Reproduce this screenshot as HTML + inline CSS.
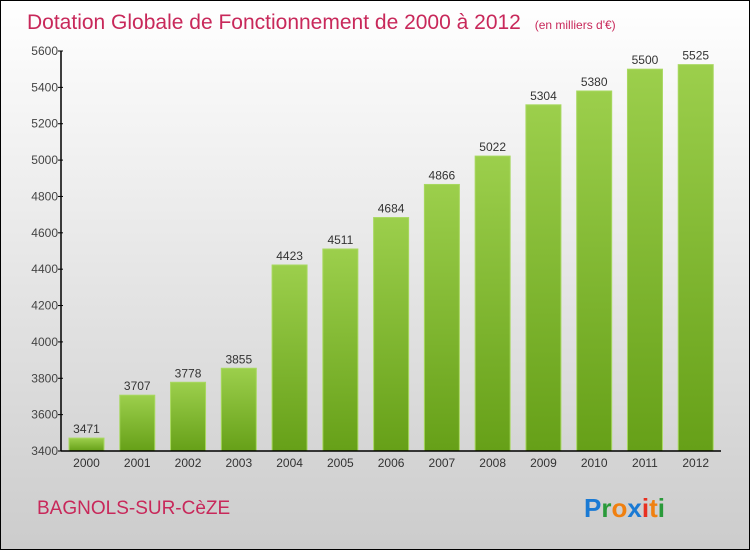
<!DOCTYPE html>
<html><head><meta charset="utf-8"><style>
body{margin:0;}
#c{position:relative;width:748px;height:548px;border:1px solid #000;background:linear-gradient(#fff,#ccc);overflow:hidden;font-family:"Liberation Sans",sans-serif;}
</style></head><body>
<div id="c">
<svg width="748" height="548" id="svg">
<defs><linearGradient id="g" x1="0" y1="0" x2="0" y2="1"><stop offset="0" stop-color="#9ccf4c"/><stop offset="1" stop-color="#66a018"/></linearGradient></defs>
<text x="26" y="28" font-size="21" fill="#c8285a">Dotation Globale de Fonctionnement de 2000 à 2012 <tspan font-size="12" dx="8">(en milliers d'€)</tspan></text>
<text x="36" y="513" font-size="19" fill="#c8285a">BAGNOLS-SUR-CèZE</text>
<text x="583" y="516" font-size="26" font-weight="bold"><tspan fill="#1a7ad4">P</tspan><tspan fill="#2a9a3a">r</tspan><tspan fill="#f08010">o</tspan><tspan fill="#1a7ad4">x</tspan><tspan fill="#e83020">i</tspan><tspan fill="#f08010">t</tspan><tspan fill="#2a9a3a">i</tspan></text>
<g id="plot"></g>
</svg>
</div>
<script>
const categories=["2000","2001","2002","2003","2004","2005","2006","2007","2008","2009","2010","2011","2012"];
const values=[3471,3707,3778,3855,4423,4511,4684,4866,5022,5304,5380,5500,5525];
const yTicks=[3400,3600,3800,4000,4200,4400,4600,4800,5000,5200,5400,5600];
const x0=60,x1=720,yTop=50,yBot=450,vMin=3400,vMax=5600;
const band=(x1-x0)/categories.length;
function y(v){return yBot-(v-vMin)/(vMax-vMin)*(yBot-yTop);}
function bx(i){return x0+i*band;}
const NS="http://www.w3.org/2000/svg",p=document.getElementById('plot');
function mk(t,a){const e=document.createElementNS(NS,t);for(const k in a)e.setAttribute(k,a[k]);p.appendChild(e);return e;}
values.forEach((v,i)=>{
const r=mk('rect',{x:bx(i)+8,y:y(v),width:35,height:yBot-y(v),fill:'url(#g)',stroke:'#a8d860','stroke-width':1});


const t=mk('text',{x:bx(i)+25.5,y:y(v)-5,'text-anchor':'middle','font-size':12,fill:'#333'});t.textContent=v;


const c=mk('text',{x:bx(i)+25.5,y:466,'text-anchor':'middle','font-size':12,fill:'#333'});c.textContent=categories[i];


});
yTicks.forEach(v=>{
const l=mk('line',{x1:x0-3,x2:x0+2,y1:y(v),y2:y(v),stroke:'#000'});


const t=mk('text',{x:x0-3,y:y(v)+4,'text-anchor':'end','font-size':12,fill:'#444'});t.textContent=v;


});
const ya=mk('line',{x1:x0,x2:x0,y1:yTop,y2:yBot,stroke:'#000','stroke-width':1.5});


const xa=mk('line',{x1:x0,x2:x1,y1:yBot,y2:yBot,stroke:'#000','stroke-width':1.5});


</script>
</body></html>
